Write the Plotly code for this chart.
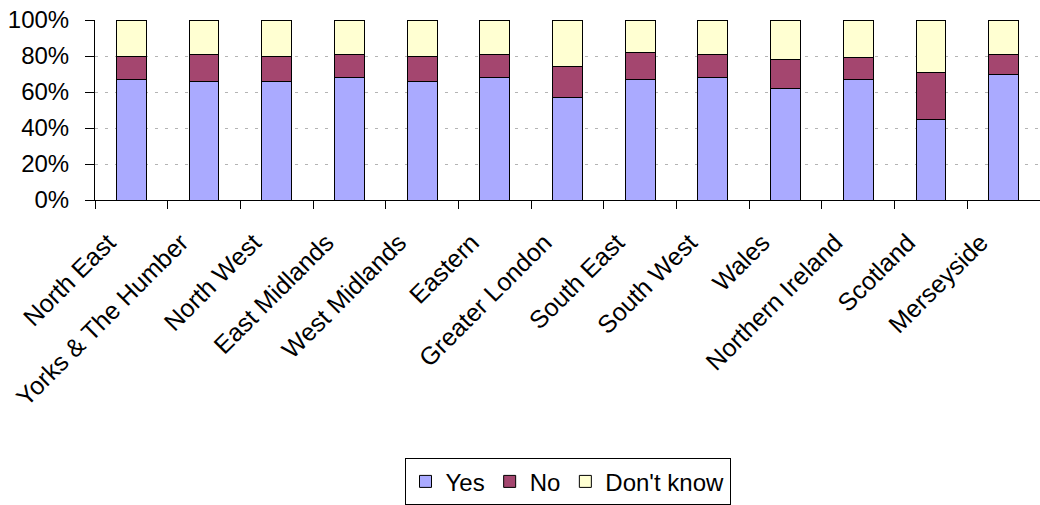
import plotly.graph_objects as go

regions = ["North East", "Yorks & The Humber", "North West", "East Midlands",
           "West Midlands", "Eastern", "Greater London", "South East",
           "South West", "Wales", "Northern Ireland", "Scotland", "Merseyside"]
yes_pct = [67, 66, 66, 68, 66, 68, 57, 67, 68, 62, 67, 45, 70]
no_pct = [13, 15, 14, 13, 14, 13, 17, 15, 13, 16, 12, 26, 11]
dont_know_pct = [20, 19, 20, 19, 20, 19, 26, 18, 19, 22, 21, 29, 19]

y_ticks = [0, 20, 40, 60, 80, 100]
y_tick_labels = ["0%", "20%", "40%", "60%", "80%", "100%"]

series = [("Yes", yes_pct, "#aaaaff"),
          ("No", no_pct, "#a4466f"),
          ("Don't know", dont_know_pct, "#ffffd2")]

font_family = "Liberation Sans, Arial, sans-serif"

fig = go.Figure()
for name, vals, color in series:
    fig.add_trace(go.Bar(
        x=regions, y=vals, name=name,
        marker=dict(color=color, line=dict(color="black", width=1)),
    ))

fig.update_layout(
    barmode="stack",
    bargap=0.59,
    width=1040, height=505,
    margin=dict(l=95, r=0, t=20, b=305, autoexpand=False),
    paper_bgcolor="white", plot_bgcolor="white",
    font=dict(family=font_family, size=24, color="black"),
    showlegend=True,
    legend=dict(
        orientation="h", x=0.5, xanchor="center",
        y=-1.435, yanchor="top",
        bordercolor="black", borderwidth=1,
        font=dict(size=24), traceorder="normal",
        itemwidth=30,
    ),
)

fig.update_xaxes(
    showline=True, linecolor="black", linewidth=1,
    ticks="outside", tickson="boundaries", ticklen=8, tickcolor="black",
    tickangle=-45, showgrid=False,
    tickfont=dict(size=25),
    ticklabelstandoff=17, ticklabelshift=-23,
)
fig.update_yaxes(
    range=[0, 100], tickmode="array", tickvals=y_ticks, ticktext=y_tick_labels,
    showline=True, linecolor="black", linewidth=1,
    ticks="outside", ticklen=9, tickcolor="black",
    showgrid=True, gridcolor="#b4b4b4", griddash="3px,7px", gridwidth=1,
    zeroline=False, tickfont=dict(size=24),
    ticklabelstandoff=11,
)

fig.write_html("out.html")
